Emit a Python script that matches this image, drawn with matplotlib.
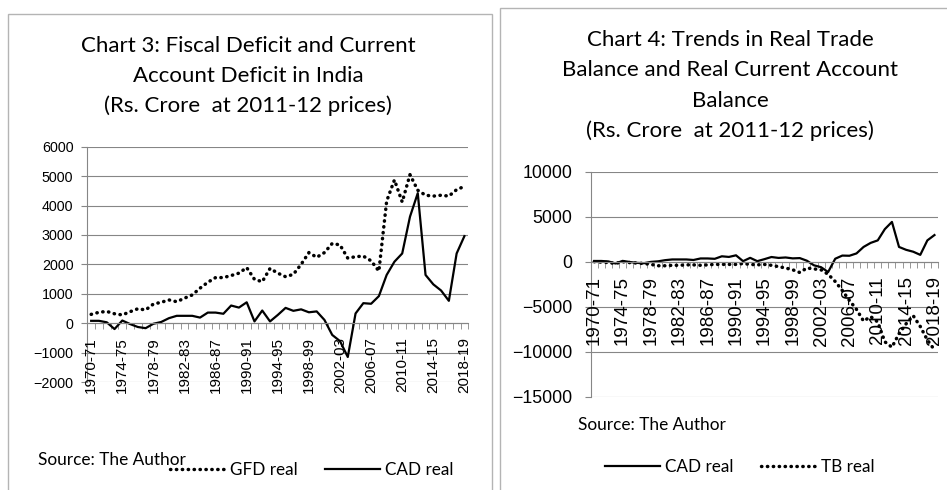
import numpy as np
import matplotlib
matplotlib.use("Agg")
import matplotlib.pyplot as plt
from matplotlib.lines import Line2D

# data (Rs. crore at 2011-12 prices), 1970-71 .. 2018-19
years = [f"{y}-{(y + 1) % 100:02d}" for y in range(1970, 2019)]
tick_labels = ["1970-71", "1974-75", "1978-79", "1982-83", "1986-87", "1990-91",
               "1994-95", "1998-99", "2002-03", "2006-07", "2010-11", "2014-15", "2018-19"]

gfd_real = [300, 370, 400, 320, 280, 390, 490, 450, 650, 710,
            790, 730, 850, 960, 1190, 1390, 1550, 1550, 1620, 1700,
            1890, 1490, 1410, 1860, 1700, 1580, 1660, 2000, 2400, 2240,
            2400, 2710, 2660, 2210, 2260, 2280, 2120, 1770, 4150, 4870,
            4120, 5050, 4520, 4350, 4320, 4350, 4320, 4540, 4650]

cad_real = [80, 80, 30, -200, 90, -30, -130, -170, -20, 40,
            170, 250, 250, 250, 190, 360, 360, 320, 600, 530,
            710, 60, 430, 60, 280, 520, 420, 470, 370, 400,
            110, -400, -610, -1150, 330, 680, 660, 920, 1640, 2090,
            2370, 3620, 4420, 1640, 1320, 1110, 760, 2370, 2960]

tb_real = [0, -50, -100, -200, 0, -100, -150, -200, -300, -450,
           -450, -400, -400, -350, -350, -400, -350, -300, -300, -300,
           -300, -200, -300, -350, -300, -400, -550, -700, -900, -1200,
           -700, -800, -900, -1400, -2200, -3200, -4300, -5300, -6600, -6100,
           -6700, -8900, -9500, -8000, -6900, -6000, -7200, -8700, -9800]

W, H = 947, 490
GRID = "#868686"
TXT = "Lato"
NUM = "Liberation Sans"

def fx(px):
    return px / W

def fy(py):
    return 1 - py / H

def box(x0, y0, x1, y1):
    return [fx(x0), fy(y1), (x1 - x0) / W, (y1 - y0) / H]

dotted = dict(color="black", lw=2.5, linestyle=(0, (0.1, 1.6)), dash_capstyle="round")
solid = dict(color="black", lw=1.6)

fig = plt.figure(figsize=(W / 100, H / 100), dpi=100)

# panel frames
fig.add_artist(plt.Rectangle((fx(8), fy(495)), (492 - 8) / W, (495 - 14) / H,
                             transform=fig.transFigure, fill=False, ec="#b4b4b4", lw=1))
fig.add_artist(plt.Rectangle((fx(500), fy(495)), (955 - 500) / W, (495 - 8) / H,
                             transform=fig.transFigure, fill=False, ec="#b4b4b4", lw=1))


def setup(ax, ymin, ymax, step, ysize, xsize, ypad, xpad):
    x = np.arange(len(years))
    ax.set_xlim(-0.5, len(years) - 0.5)
    ax.set_ylim(ymin, ymax)
    ax.set_yticks(np.arange(ymin, ymax + 1, step))
    ax.grid(axis="y", color=GRID, lw=0.8)
    ax.set_axisbelow(True)
    for s in ["top", "right"]:
        ax.spines[s].set_visible(False)
    ax.spines["left"].set_color(GRID)
    ax.spines["bottom"].set_color(GRID)
    ax.spines["bottom"].set_position(("data", 0))
    ax.set_xticks([])
    ax.set_xticks(np.arange(-0.5, len(years), 1), minor=True)
    ax.tick_params(axis="x", which="minor", length=4.5, color=GRID, direction="out")
    ax.tick_params(axis="y", length=4, color=GRID, pad=ypad)
    for t in ax.get_yticklabels():
        t.set_fontsize(ysize)
        t.set_family(NUM)
    # category labels every 4 years, hanging below the zero axis
    for i, lab in zip(x[::4], tick_labels):
        ax.annotate(lab, xy=(i, 0), xytext=(0, -xpad), textcoords="offset points",
                    rotation=90, ha="center", va="top", fontsize=xsize,
                    family=NUM, annotation_clip=False)
    return x


# Chart 3
ax1 = fig.add_axes(box(87.3, 146.7, 468.3, 382))
x = setup(ax1, -2000, 6000, 1000, 10.3, 11, 6, 10)
ax1.plot(x, gfd_real, **dotted)
ax1.plot(x, cad_real, **solid)

for i, line in enumerate(["Chart 3: Fiscal Deficit and Current",
                          "Account Deficit in India",
                          "(Rs. Crore  at 2011-12 prices)"]):
    fig.text(fx(248), fy(46 + 30 * i), line, ha="center", va="center",
             fontsize=16, family=TXT)
fig.text(fx(38), fy(460), "Source: The Author", ha="left", va="center",
         fontsize=12.4, family=TXT)
fig.legend([Line2D([], [], **dotted), Line2D([], [], **solid)],
           ["GFD real", "CAD real"], loc="center", ncol=2,
           bbox_to_anchor=(fx(312), fy(470)), frameon=False,
           prop=dict(family=TXT, size=12.3), handlelength=3.2,
           handletextpad=0.3, columnspacing=1.6)

# Chart 4
ax2 = fig.add_axes(box(590.7, 171.7, 938, 396.7))
x = setup(ax2, -15000, 10000, 5000, 12.8, 13.5, 9, 10.5)
ax2.plot(x, cad_real, **solid)
ax2.plot(x, tb_real, **dotted)

for i, line in enumerate(["Chart 4: Trends in Real Trade",
                          "Balance and Real Current Account",
                          "Balance",
                          "(Rs. Crore  at 2011-12 prices)"]):
    fig.text(fx(730), fy(40 + 30.3 * i), line, ha="center", va="center",
             fontsize=16, family=TXT)
fig.text(fx(578), fy(425), "Source: The Author", ha="left", va="center",
         fontsize=12.4, family=TXT)
fig.legend([Line2D([], [], **solid), Line2D([], [], **dotted)],
           ["CAD real", "TB real"], loc="center", ncol=2,
           bbox_to_anchor=(fx(740), fy(467)), frameon=False,
           prop=dict(family=TXT, size=12.3), handlelength=3.2,
           handletextpad=0.3, columnspacing=1.6)

fig.savefig("out.png", dpi=100)
